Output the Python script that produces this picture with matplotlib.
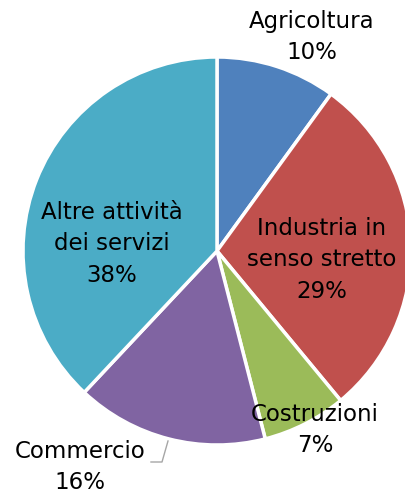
import matplotlib.pyplot as plt

labels = ['Agricoltura', 'Industria in\nsenso stretto', 'Costruzioni', 'Commercio', 'Altre attività\ndei servizi']
values = [10, 29, 7, 16, 38]
colors = ['#4F81BD', '#C0504D', '#9BBB59', '#8064A2', '#4BACC6']

W, H = 405, 493
cx, cy, R = 217, 251, 194

fig = plt.figure(figsize=(W / 100, H / 100), dpi=100)
ax = fig.add_axes([0, 0, 1, 1])

ax.pie(values, colors=colors, startangle=90, counterclock=False, radius=1,
       wedgeprops=dict(edgecolor='white', linewidth=2.5))

ax.set_xlim(-cx / R, (W - cx) / R)
ax.set_ylim(-(H - cy) / R, cy / R)
ax.set_aspect('equal')
ax.axis('off')


def px(x, y):
    return (x - cx) / R, (cy - y) / R


# label positions in pixel coordinates of the reference
pos = [(312, 37), (322, 260), (315, 430), (80, 467), (112, 244)]
for lab, v, (x, y) in zip(labels, values, pos):
    ax.text(*px(x, y), f'{lab}\n{v}%', ha='center', va='center',
            fontsize=16.5, linespacing=1.45, color='black')

# leader line for Commercio
lx, ly = zip(px(151, 462), px(162, 462), px(168, 441))
ax.plot(lx, ly, color='#A6A6A6', lw=1)

fig.savefig('out.png', dpi=100)
